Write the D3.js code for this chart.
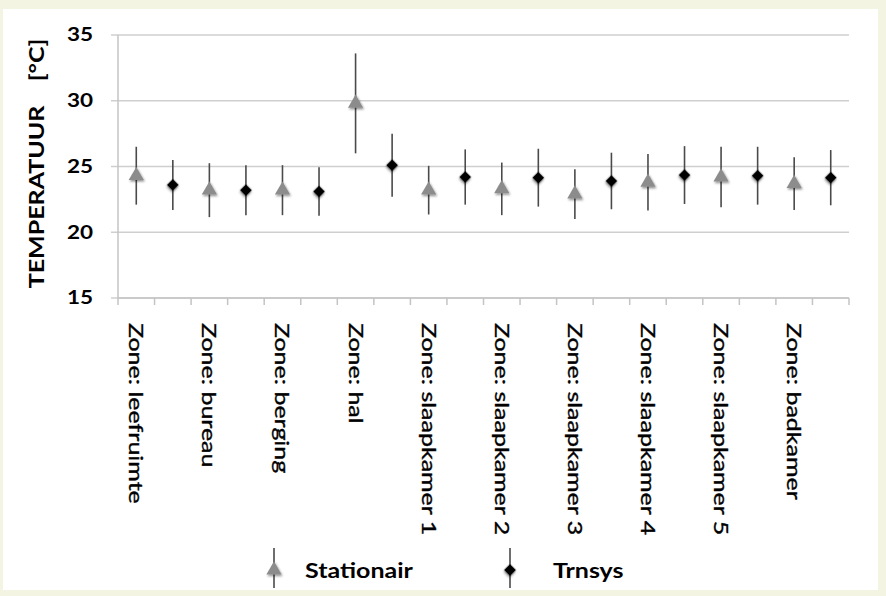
<!DOCTYPE html>
<html>
<head>
<meta charset="utf-8">
<script src="https://cdn.jsdelivr.net/npm/d3@7"></script>
<style>
  body { margin: 0; background: #f3f5e2; }
  svg { display: block; }
</style>
</head>
<body>
<div id="chart"></div>
<script>
const zones = ["Zone: leefruimte", "Zone: bureau", "Zone: berging", "Zone: hal", "Zone: slaapkamer 1",
    "Zone: slaapkamer 2", "Zone: slaapkamer 3", "Zone: slaapkamer 4", "Zone: slaapkamer 5", "Zone: badkamer"];
const stationair = [24.3, 23.2, 23.2, 29.8, 23.2, 23.3, 22.9, 23.8, 24.2, 23.7];
const stationairErr = [2.2, 2.05, 1.9, 3.8, 1.85, 2.0, 1.9, 2.15, 2.3, 2.0];
const trnsys = [23.6, 23.2, 23.1, 25.1, 24.2, 24.15, 23.9, 24.35, 24.3, 24.15];
const trnsysErr = [1.9, 1.9, 1.85, 2.4, 2.1, 2.2, 2.15, 2.2, 2.2, 2.1];
const yTicks = [15, 20, 25, 30, 35];

const width = 886;
const height = 596;
const stretch = 1.25; // text in the original is drawn wide

const svg = d3.select("#chart")
    .append("svg")
    .attr("width", width)
    .attr("height", height);

// drop shadow for markers
svg.append("defs").append("filter")
    .attr("id", "shadow")
    .attr("x", "-50%").attr("y", "-50%").attr("width", "200%").attr("height", "200%")
    .append("feDropShadow")
    .attr("dx", 1).attr("dy", 1.5)
    .attr("stdDeviation", 1.3)
    .attr("flood-color", "#000")
    .attr("flood-opacity", 0.45);

// white panel
svg.append("rect")
    .attr("x", 3).attr("y", 9)
    .attr("width", 875).attr("height", 581)
    .attr("fill", "#fff");

// one slot per point: stationair then trnsys for each zone
const points = [];
zones.forEach((z, i) => {
    points.push({ zone: z, series: "Stationair", value: stationair[i], err: stationairErr[i], label: z });
    points.push({ zone: z, series: "Trnsys", value: trnsys[i], err: trnsysErr[i], label: "" });
});

const x = d3.scaleBand()
    .domain(d3.range(points.length))
    .range([118, 849])
    .padding(0);

const y = d3.scaleLinear()
    .domain([15, 35])
    .range([298, 35]);

// gridlines
svg.selectAll(".grid")
    .data(yTicks)
    .join("line")
    .attr("x1", 111)
    .attr("x2", 849)
    .attr("y1", d => y(d))
    .attr("y2", d => y(d))
    .attr("stroke", "#cfcfcf")
    .attr("stroke-width", 1.5);

// y axis line
svg.append("line")
    .attr("x1", 118).attr("x2", 118)
    .attr("y1", y(35)).attr("y2", y(15))
    .attr("stroke", "#c4c4c4")
    .attr("stroke-width", 1.5);

// x axis line and ticks
svg.append("line")
    .attr("x1", 118).attr("x2", 849)
    .attr("y1", y(15)).attr("y2", y(15))
    .attr("stroke", "#c4c4c4")
    .attr("stroke-width", 1.5);

const tickPos = d3.range(points.length + 1).map(i => i < points.length ? x(i) : x(points.length - 1) + x.bandwidth());
svg.selectAll(".xtick")
    .data(tickPos)
    .join("line")
    .attr("x1", d => d).attr("x2", d => d)
    .attr("y1", y(15)).attr("y2", y(15) + 7)
    .attr("stroke", "#c4c4c4")
    .attr("stroke-width", 1.5);

// y tick labels
svg.selectAll(".ylabel")
    .data(yTicks)
    .join("text")
    .attr("transform", d => `translate(93,${y(d)}) scale(${stretch},1)`)
    .attr("dy", "0.35em")
    .attr("text-anchor", "end")
    .attr("font-family", "Lato, sans-serif")
    .attr("font-weight", "bold")
    .attr("font-size", "18px")
    .attr("fill", "#000")
    .text(d => d);

// y axis title
svg.append("text")
    .attr("transform", `translate(44,${(y(15) + y(35)) / 2 - 3}) rotate(-90) scale(${stretch},1)`)
    .attr("text-anchor", "middle")
    .attr("font-family", "Lato, sans-serif")
    .attr("font-weight", "bold")
    .attr("font-size", "20px")
    .attr("fill", "#000")
    .attr("xml:space", "preserve")
    .text("TEMPERATUUR    [°C]");

// x category labels (rotated, reading downwards)
svg.selectAll(".xlabel")
    .data(points)
    .join("text")
    .attr("transform", (d, i) => `translate(${x(i) + x.bandwidth() / 2},323) rotate(90) scale(${stretch},1)`)
    .attr("dy", "0.35em")
    .attr("font-family", "Lato, sans-serif")
    .attr("font-size", "20px")
    .attr("fill", "#000")
    .attr("stroke", "#000")
    .attr("stroke-width", 0.35)
    .text(d => d.label);

// error bars
svg.selectAll(".err")
    .data(points)
    .join("line")
    .attr("x1", (d, i) => x(i) + x.bandwidth() / 2)
    .attr("x2", (d, i) => x(i) + x.bandwidth() / 2)
    .attr("y1", d => y(d.value + d.err))
    .attr("y2", d => y(d.value - d.err))
    .attr("stroke", "#4a4a4a")
    .attr("stroke-width", 1.6);

const triangle = d3.symbol().type(d3.symbolTriangle).size(100);
const diamond = d3.symbol().type(d3.symbolSquare).size(70);

// markers
svg.selectAll(".marker")
    .data(points)
    .join("path")
    .attr("d", d => d.series === "Stationair" ? triangle() : diamond())
    .attr("transform", (d, i) => `translate(${x(i) + x.bandwidth() / 2},${y(d.value)})` + (d.series === "Trnsys" ? " rotate(45)" : ""))
    .attr("fill", d => d.series === "Stationair" ? "#8c8c8c" : "#000")
    .attr("filter", "url(#shadow)");

// legend
const legend = [
    { series: "Stationair", x: 274, tx: 305 },
    { series: "Trnsys", x: 510, tx: 553 }
];
legend.forEach(l => {
    svg.append("line")
        .attr("x1", l.x).attr("x2", l.x)
        .attr("y1", 548).attr("y2", 588)
        .attr("stroke", "#4a4a4a")
        .attr("stroke-width", 1.6);
    svg.append("path")
        .attr("d", l.series === "Stationair" ? triangle() : diamond())
        .attr("transform", `translate(${l.x},570)` + (l.series === "Trnsys" ? " rotate(45)" : ""))
        .attr("fill", l.series === "Stationair" ? "#8c8c8c" : "#000")
        .attr("filter", "url(#shadow)");
    svg.append("text")
        .attr("transform", `translate(${l.tx},571) scale(${stretch},1)`)
        .attr("dy", "0.35em")
        .attr("font-family", "Lato, sans-serif")
        .attr("font-weight", "bold")
        .attr("font-size", "20px")
        .attr("fill", "#000")
        .text(l.series);
});
</script>
</body>
</html>
